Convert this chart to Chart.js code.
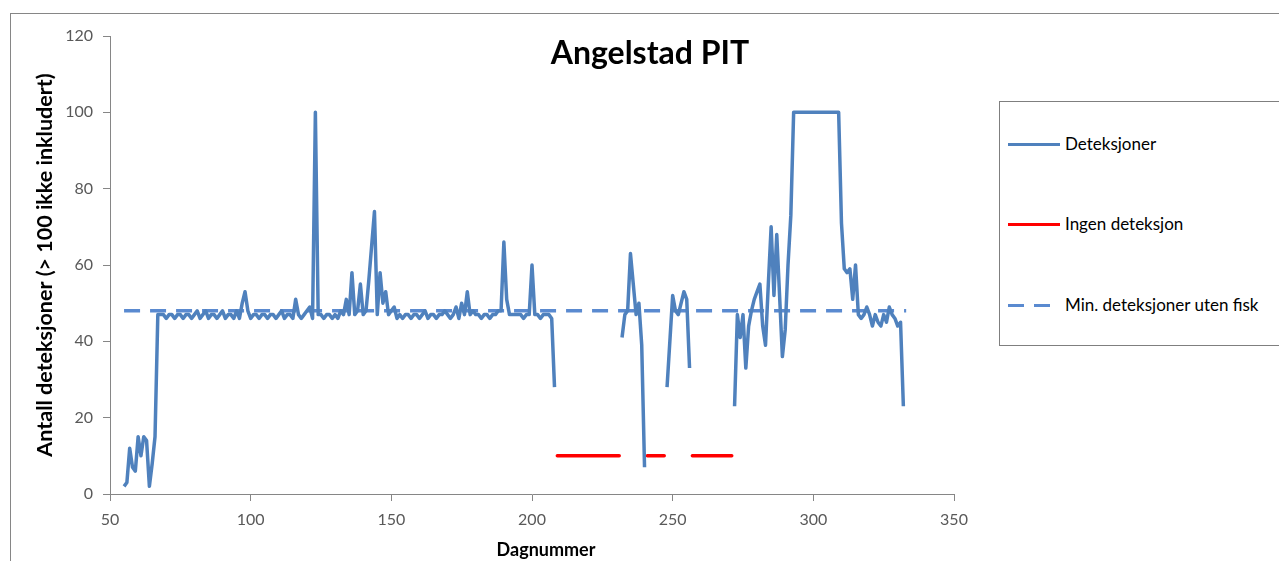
<!DOCTYPE html>
<html>
<head>
<meta charset="utf-8">
<title>Angelstad PIT</title>
<script src="https://cdn.jsdelivr.net/npm/chart.js@4.4.1/dist/chart.umd.min.js"></script>
<style>
  html, body { margin: 0; padding: 0; background: #fff; overflow: hidden; }
  body { width: 1279px; height: 561px; position: relative; font-family: Lato, "Liberation Sans", sans-serif; }
  #frame { position: absolute; left: 10px; top: 13px; width: 1400px; height: 700px; border: 1px solid #868686; }
  #chart { position: absolute; left: 0; top: 0; }
  #title { position: absolute; left: 450px; width: 400px; top: 32px; text-align: center; font-weight: bold; font-size: 32px; color: #000; }
  #xtitle { position: absolute; left: 446px; width: 200px; top: 538px; text-align: center; font-weight: bold; font-size: 18px; color: #000; }
  #legend { position: absolute; left: 999px; top: 101px; width: 400px; height: 243px; border: 1px solid #7f7f7f; background: #fff; }
  .item { position: absolute; left: 8px; height: 20px; font-size: 17px; color: #000; }
  .item span.sample { position: absolute; left: 0; top: 9px; width: 52px; height: 0; border-top: 3px solid #4F81BD; }
  .item span.text { position: absolute; left: 57px; top: -1px; white-space: nowrap; }
</style>
</head>
<body>
<div id="frame"></div>
<canvas id="chart" width="1279" height="561"></canvas>
<div id="title">Angelstad PIT</div>
<div id="xtitle">Dagnummer</div>
<div id="legend">
  <div class="item" style="top:32px"><span class="sample"></span><span class="text">Deteksjoner</span></div>
  <div class="item" style="top:112px"><span class="sample" style="border-top-color:#FF0000"></span><span class="text">Ingen deteksjon</span></div>
  <div class="item" style="top:193px">
    <span class="sample" style="border-top-color:#5A8AD0; width:16px"></span>
    <span class="sample" style="border-top-color:#5A8AD0; width:16px; left:26px"></span>
    <span class="text">Min. deteksjoner uten fisk</span>
  </div>
</div>
<script>
// first day with data, one value per day after that (null = no data that day)
const firstDay = 55;
const detections = [
  2, 3, 12, 7, 6, 15, 10, 15, 14, 2, 8, 15, 47,
  47, 47, 46, 47, 47, 46, 47, 47, 46, 47,
  47, 46, 47, 48, 46, 47, 48, 46, 47, 47,
  46, 47, 48, 46, 47, 47, 46, 48, 46, 50,
  53, 48, 46, 47, 47, 46, 47, 47, 46, 47,
  47, 46, 47, 48, 46, 47, 47, 46, 51, 47,
  46, 47, 48, 49, 46, 100, 47,
  47, 46, 47, 47, 46, 47, 46, 48, 47, 51,
  47, 58, 47, 48, 55, 47, 48, 56, 65, 74,
  47, 58, 50, 53, 47, 48, 49, 46, 47, 46,
  47, 47, 46, 47, 47, 46, 47, 48, 46, 47,
  47, 46, 47, 47, 48, 47, 46, 47, 49, 46,
  50, 47, 53, 47, 48, 47, 47, 46, 47, 47,
  46, 47, 47, 48, 48, 66, 51, 47, 47, 47,
  47, 47, 46, 47, 47, 60, 47, 47, 46, 47,
  47, 47, 46, 28,
  null, null, null, null, null, null, null, null, null, null, null, null,
  null, null, null, null, null, null, null, null, null, null, null,
  41, 47, 48, 63, 55, 47, 50, 39, 7,
  null, null, null, null, null, null, null,
  28, 40, 52, 48, 47, 50, 53, 51, 33,
  null, null, null, null, null, null, null, null, null, null, null, null, null, null, null,
  23, 47, 41, 47, 33, 44, 48, 51, 53, 55, 44, 39, 55, 70, 52, 68, 52, 36, 43, 60, 73, 100,
  100, 100, 100, 100, 100, 100, 100, 100, 100, 100, 100, 100, 100, 100, 100, 100,
  71, 59, 58, 59, 51, 60, 47, 46, 47, 49, 47, 44, 47, 45, 44, 47, 45, 49, 47, 46, 44, 45, 23
];

// periods without any detection (drawn at a fixed level)
const noDetectionStart = [209, 241, 257];
const noDetectionEnd = [231, 247, 271];
const noDetectionLevel = 10;

// minimum number of detections without fish present
const minLineDays = [55, 333];
const minLineLevel = 48;

const xTicks = [50, 100, 150, 200, 250, 300, 350];
const yTicks = [0, 20, 40, 60, 80, 100, 120];

// day labels for the detection series
const days = [];
for (let i = 0; i < detections.length; i++) {
  days.push(firstDay + i);
}

const redData = [];
noDetectionStart.forEach(function(start, i) {
  redData.push({x: start, y: noDetectionLevel});
  redData.push({x: noDetectionEnd[i], y: noDetectionLevel});
  redData.push({x: noDetectionEnd[i] + 0.5, y: null});
});

const minData = minLineDays.map(function(d) { return {x: d, y: minLineLevel}; });

const axisColor = '#868686';
const tickFont = {family: 'Lato', size: 16};

const ctx = document.getElementById('chart').getContext('2d');
const chart = new Chart(ctx, {
  type: 'line',
  data: {
    labels: days,
    datasets: [
      {
        label: 'Deteksjoner',
        data: detections,
        borderColor: '#4F81BD',
        borderWidth: 3.5,
        pointRadius: 0,
        tension: 0,
        spanGaps: false,
        borderJoinStyle: 'round'
      },
      {
        label: 'Ingen deteksjon',
        data: redData,
        borderColor: '#FF0000',
        borderWidth: 3.5,
        pointRadius: 0,
        spanGaps: false,
        borderCapStyle: 'round'
      },
      {
        label: 'Min. deteksjoner uten fisk',
        data: minData,
        borderColor: '#5A8AD0',
        borderWidth: 3.5,
        borderDash: [16, 10],
        pointRadius: 0
      }
    ]
  },
  options: {
    responsive: false,
    animation: false,
    layout: { padding: { left: 0, top: 36, right: 325, bottom: 0 } },
    plugins: {
      legend: { display: false },
      title: { display: false },
      tooltip: { enabled: false }
    },
    scales: {
      x: {
        type: 'linear',
        min: xTicks[0],
        max: xTicks[xTicks.length - 1],
        afterBuildTicks: function(scale) {
          scale.ticks = xTicks.map(function(v) { return {value: v}; });
        },
        ticks: { color: '#595959', font: tickFont, padding: 9, maxRotation: 0 },
        grid: { drawOnChartArea: false, tickLength: 7, color: axisColor },
        border: { color: axisColor, width: 1 },
        afterFit: function(scale) { scale.height = 67; }
      },
      y: {
        min: yTicks[0],
        max: yTicks[yTicks.length - 1],
        afterBuildTicks: function(scale) {
          scale.ticks = yTicks.map(function(v) { return {value: v}; });
        },
        ticks: { color: '#595959', font: tickFont, padding: 10 },
        grid: { drawOnChartArea: false, tickLength: 7, color: axisColor },
        border: { color: axisColor, width: 1 },
        title: {
          display: true,
          text: 'Antall deteksjoner (> 100 ikke inkludert)',
          color: '#000',
          font: {family: 'Lato', size: 21.5, weight: 'bold'},
          padding: {top: 32, bottom: 0}
        },
        afterFit: function(scale) { scale.width = 110; }
      }
    }
  }
});
</script>
</body>
</html>
